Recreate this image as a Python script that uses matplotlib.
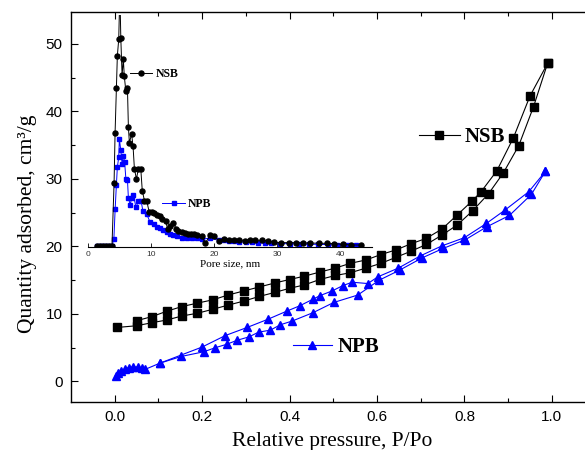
import matplotlib
matplotlib.use('Agg')
import matplotlib.pyplot as plt
import numpy as np

# N2 isotherms, main plot (P/Po vs quantity adsorbed, cm3/g)
nsb_ads_x = [0.006, 0.050, 0.085, 0.119, 0.154, 0.189, 0.225, 0.259, 0.295, 0.331, 0.367, 0.400,
             0.434, 0.469, 0.505, 0.539, 0.575, 0.609, 0.644, 0.678, 0.713, 0.749, 0.784, 0.819,
             0.855, 0.889, 0.924, 0.958, 0.990]
nsb_ads_y = [8.0, 8.25, 8.7, 9.1, 9.7, 10.1, 10.7, 11.3, 11.9, 12.6, 13.2, 13.8,
             14.3, 15.1, 15.7, 16.1, 16.8, 17.5, 18.4, 19.3, 20.3, 21.7, 23.2, 25.3,
             27.8, 30.9, 34.9, 40.7, 47.1]
nsb_des_x = [0.990, 0.950, 0.912, 0.874, 0.838, 0.817, 0.784, 0.749, 0.713, 0.678, 0.644, 0.609,
             0.575, 0.539, 0.505, 0.469, 0.434, 0.400, 0.367, 0.331, 0.295, 0.259, 0.225, 0.189,
             0.154, 0.119, 0.085, 0.050]
nsb_des_y = [47.1, 42.3, 36.1, 31.2, 28.1, 26.7, 24.7, 22.6, 21.2, 20.4, 19.5, 18.8,
             18.0, 17.5, 16.8, 16.2, 15.6, 15.1, 14.6, 14.0, 13.4, 12.8, 12.1, 11.6,
             11.1, 10.4, 9.6, 9.0]

npb_ads_x = [0.002, 0.008, 0.015, 0.023, 0.032, 0.042, 0.053, 0.063, 0.070, 0.103, 0.152, 0.204,
             0.230, 0.256, 0.280, 0.307, 0.329, 0.356, 0.379, 0.406, 0.454, 0.501, 0.556, 0.605,
             0.652, 0.703, 0.751, 0.802, 0.851, 0.903, 0.953, 0.985]
npb_ads_y = [0.75, 1.2, 1.55, 1.85, 2.05, 2.15, 2.15, 2.0, 1.8, 2.7, 3.7, 4.4,
             5.0, 5.5, 6.1, 6.6, 7.3, 7.6, 8.4, 8.95, 10.2, 11.7, 12.8, 15.0,
             16.5, 18.3, 19.7, 21.0, 22.9, 24.6, 27.7, 31.1]
npb_des_x = [0.985, 0.947, 0.893, 0.850, 0.800, 0.749, 0.699, 0.649, 0.602, 0.579, 0.543, 0.522,
             0.497, 0.469, 0.454, 0.423, 0.393, 0.350, 0.303, 0.253, 0.200, 0.103]
npb_des_y = [31.1, 28.1, 25.4, 23.4, 21.3, 20.1, 18.6, 16.8, 15.5, 14.5, 14.7, 14.2,
             13.4, 12.7, 12.2, 11.2, 10.4, 9.2, 8.0, 6.8, 5.1, 2.7]

# Pore size distribution, inset (nm vs arbitrary units)
nsb_psd_x = [1.4, 1.9, 2.4, 2.9, 3.4, 3.8, 4.13, 4.29, 4.5, 4.65, 4.87, 5.05, 5.2, 5.4, 5.6, 5.75,
             6.0, 6.25, 6.4, 6.56, 6.9, 7.14, 7.35, 7.67, 8.0, 8.36, 8.6, 8.95, 9.3, 9.7, 10.1, 10.5,
             11.0, 11.4, 11.8, 12.3, 12.6, 13.0, 13.5, 14.0, 14.3, 14.9, 15.4, 15.9, 16.3, 16.8,
             17.2, 18.0, 18.6, 19.4, 20.0, 20.7, 21.5, 22.3, 23.1, 23.9, 24.8, 25.7, 26.5, 27.5,
             28.5, 29.4, 30.6, 31.8, 33.0, 34.1, 35.2, 36.6, 37.8, 39.0, 40.4, 41.7, 43.2]
nsb_psd_y = [0, 0, 0, 0, 0, 0, 9.3, 16.8, 23.5, 28.3, 30.8, 38.0, 30.9, 25.4, 27.8, 25.3,
             23.0, 23.5, 17.7, 15.3, 16.7, 14.8, 11.5, 9.95, 11.5, 11.5, 8.2, 6.7, 6.7, 5.0, 5.0, 4.9,
             4.6, 4.4, 4.0, 3.7, 2.5, 3.0, 3.4, 2.5, 2.2, 2.0, 1.9, 1.7, 1.8, 1.8,
             1.6, 1.4, 0.4, 1.6, 1.4, 0.75, 1.0, 0.9, 0.9, 0.9, 0.75, 0.85, 0.8, 0.8,
             0.75, 0.5, 0.45, 0.45, 0.45, 0.4, 0.4, 0.35, 0.35, 0.3, 0.2, 0.1, 0.1]
npb_psd_x = [1.4, 1.9, 2.4, 2.9, 3.4, 3.8, 4.1, 4.3, 4.5, 4.65, 4.87, 4.97, 5.2, 5.4, 5.6, 5.8,
             6.0, 6.25, 6.4, 6.7, 6.9, 7.2, 7.6, 8.0, 8.4, 8.7, 9.3, 9.8, 10.4, 10.9, 11.4, 11.9,
             12.5, 13.0, 13.5, 14.1, 14.9, 15.7, 16.5, 17.2, 18.0, 19.4, 20.7, 21.5, 22.3, 23.1,
             24.0, 25.0, 26.0, 27.0, 28.0, 29.0, 30.5, 32.0, 33.5, 35.0, 36.5, 38.0, 39.5, 41.0, 42.5]
npb_psd_y = [0, 0, 0, 0, 0, 0, 1.0, 5.4, 9.1, 11.7, 13.2, 15.9, 14.2, 12.2, 13.4, 12.5,
             10.0, 9.85, 7.1, 6.1, 7.1, 7.6, 5.7, 6.7, 6.7, 5.2, 4.7, 3.6, 3.2, 2.8, 2.6, 2.3,
             2.1, 1.7, 1.6, 1.4, 1.2, 1.1, 1.2, 1.1, 1.0, 1.1, 0.8, 0.8, 0.7, 0.7,
             0.6, 0.5, 0.5, 0.4, 0.4, 0.35, 0.3, 0.3, 0.25, 0.2, 0.2, 0.15, 0.1, 0.1, 0.05]

serif = 'Liberation Serif'
sans = 'Liberation Sans'
W, H = 585, 450

fig = plt.figure(figsize=(5.85, 4.5), dpi=100)
ax = fig.add_axes([71 / W, 48.3 / H, 515 / W, 390.2 / H])

# main isotherms
nsb, = ax.plot(nsb_ads_x, nsb_ads_y, 's-', color='black', ms=5.3, lw=0.8)
ax.plot(nsb_des_x, nsb_des_y, 's-', color='black', ms=5.3, lw=0.8)
npb, = ax.plot(npb_ads_x, npb_ads_y, '^-', color='blue', ms=6, lw=0.8)
ax.plot(npb_des_x, npb_des_y, '^-', color='blue', ms=6, lw=0.8)

ax.set_xlim(-0.1, 1.078)
ax.set_ylim(-3, 54.8)
ax.set_xticks(np.arange(0, 1.01, 0.2))
ax.set_xticks(np.arange(0.1, 1.0, 0.2), minor=True)
ax.set_yticks(np.arange(0, 51, 10))
ax.set_yticks(np.arange(5, 51, 10), minor=True)
ax.tick_params(which='both', direction='in', top=True, right=False, width=0.8, pad=6)
ax.tick_params(which='major', length=5)
ax.tick_params(which='minor', length=3)
for lab in ax.get_xticklabels() + ax.get_yticklabels():
    lab.set_fontfamily(sans)
    lab.set_fontsize(11)
ax.spines['right'].set_visible(False)
for s in ['left', 'bottom', 'top']:
    ax.spines[s].set_linewidth(1.0)

ax.set_xlabel('Relative pressure, P/Po', fontsize=15.5, family=serif)
ax.set_ylabel('Quantity adsorbed, cm³/g', fontsize=15.5, family=serif)
ax.xaxis.set_label_coords(0.507, -0.078)
ax.yaxis.set_label_coords(-0.066, 0.455)

# series labels
big = dict(family=serif, weight='bold', size=15)
leg1 = ax.legend([nsb], ['NSB'], loc='center left', bbox_to_anchor=(419 / W, 1 - 137 / H),
                 bbox_transform=fig.transFigure, frameon=False, borderpad=0, borderaxespad=0,
                 handlelength=1.95, handletextpad=0.25, numpoints=1, prop=big)
ax.add_artist(leg1)
ax.legend([npb], ['NPB'], loc='center left', bbox_to_anchor=(292.7 / W, 1 - 347 / H),
          bbox_transform=fig.transFigure, frameon=False, borderpad=0, borderaxespad=0,
          handlelength=1.9, handletextpad=0.25, numpoints=1, prop=big)

# inset: pore size distribution
axin = fig.add_axes([88 / W, 1 - 247 / H, 284 / W, 232 / H])
axin.patch.set_alpha(0)
p2, = axin.plot(npb_psd_x, npb_psd_y, 's-', color='blue', ms=3, lw=0.7)
p1, = axin.plot(nsb_psd_x, nsb_psd_y, 'o-', color='black', ms=3.6, lw=0.7)
axin.set_xlim(0, 45)
axin.set_ylim(-0.2, 34.4)
axin.set_yticks([])
axin.set_xticks([0, 10, 20, 30, 40])
for s in ['left', 'right', 'top']:
    axin.spines[s].set_visible(False)
axin.spines['bottom'].set_linewidth(0.8)
axin.tick_params(axis='x', direction='in', length=3, width=0.6, labelsize=6, pad=3, labelcolor='#333333')
for lab in axin.get_xticklabels():
    lab.set_fontfamily(sans)
axin.set_xlabel('Pore size, nm', fontsize=8, family=serif, labelpad=1)

small = dict(family=serif, weight='bold', size=8.5)
leg3 = axin.legend([p1], ['NSB'], loc='center left', bbox_to_anchor=(130 / W, 1 - 74 / H),
                   bbox_transform=fig.transFigure, frameon=False, borderpad=0, borderaxespad=0,
                   handlelength=1.9, handletextpad=0.25, numpoints=1, prop=small)
axin.add_artist(leg3)
axin.legend([p2], ['NPB'], loc='center left', bbox_to_anchor=(162 / W, 1 - 204 / H),
            bbox_transform=fig.transFigure, frameon=False, borderpad=0, borderaxespad=0,
            handlelength=1.95, handletextpad=0.25, numpoints=1, prop=small)

plt.savefig('out.png', dpi=100)
